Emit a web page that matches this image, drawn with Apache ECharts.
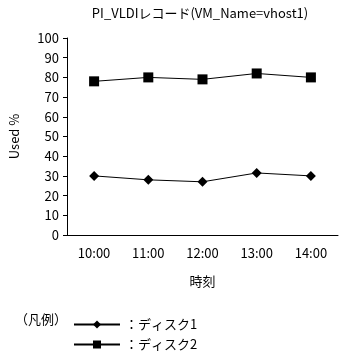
<!DOCTYPE html>
<html><head><meta charset="utf-8">
<script src="https://cdn.jsdelivr.net/npm/echarts@6/dist/echarts.min.js"></script>
<style>html,body{margin:0;padding:0;background:#fff}#c{width:340px;height:351px}</style>
</head><body><div id="c"></div>
<script>
const categories = ['10:00','11:00','12:00','13:00','14:00'];
const disk1 = [30, 28, 27, 31.5, 30];
const disk2 = [78, 80, 79, 82, 80];
const seriesNames = ['ディスク1','ディスク2'];
const FONT = '"Noto Sans CJK JP", sans-serif';
const chart = echarts.init(document.getElementById('c'));
const legendBase = {orient:'horizontal',left:68,itemWidth:46,itemHeight:10,itemGap:4,
    formatter:n=>'：'+n,
    textStyle:{fontSize:13,color:'#000',fontFamily:FONT}};
chart.setOption({
  backgroundColor:'#fff',
  animation:false,
  textStyle:{fontFamily:FONT,color:'#000'},
  title:{text:'PI_VLDIレコード(VM_Name=vhost1)',left:195,top:2,textAlign:'center',
    textStyle:{fontSize:13,fontWeight:'normal',color:'#000',fontFamily:FONT}},
  grid:{left:62,right:2,top:38,bottom:116},
  xAxis:{type:'category',data:categories,
    name:'時刻',nameLocation:'middle',nameGap:40,
    nameTextStyle:{fontSize:13,color:'#000',fontFamily:FONT},
    axisLine:{lineStyle:{color:'#000',width:1}},
    axisTick:{inside:true,length:4,lineStyle:{color:'#000'}},
    axisLabel:{color:'#000',fontSize:13,margin:12,fontFamily:FONT},
    splitLine:{show:false}},
  yAxis:{type:'value',min:0,max:100,interval:10,
    name:'Used %',nameLocation:'middle',nameGap:46,nameRotate:90,
    nameTextStyle:{fontSize:13,color:'#000',fontFamily:FONT},
    axisLine:{show:true,lineStyle:{color:'#000',width:1}},
    axisTick:{show:true,length:4,lineStyle:{color:'#000'}},
    axisLabel:{color:'#000',fontSize:13,margin:8,fontFamily:FONT},
    splitLine:{show:false}},
  legend:[
    Object.assign({top:313,data:[seriesNames[0]]},legendBase),
    Object.assign({top:333,data:[seriesNames[1]]},legendBase)
  ],
  graphic:[{type:'text',left:15,top:313,style:{text:'（凡例）',fontSize:13,fill:'#000',fontFamily:FONT}}],
  series:[
    {name:seriesNames[0],type:'line',data:disk1,symbol:'diamond',symbolSize:10,
     lineStyle:{color:'#000',width:1},itemStyle:{color:'#000'}},
    {name:seriesNames[1],type:'line',data:disk2,symbol:'rect',symbolSize:10,
     lineStyle:{color:'#000',width:1},itemStyle:{color:'#000'}}
  ]
});
</script></body></html>
